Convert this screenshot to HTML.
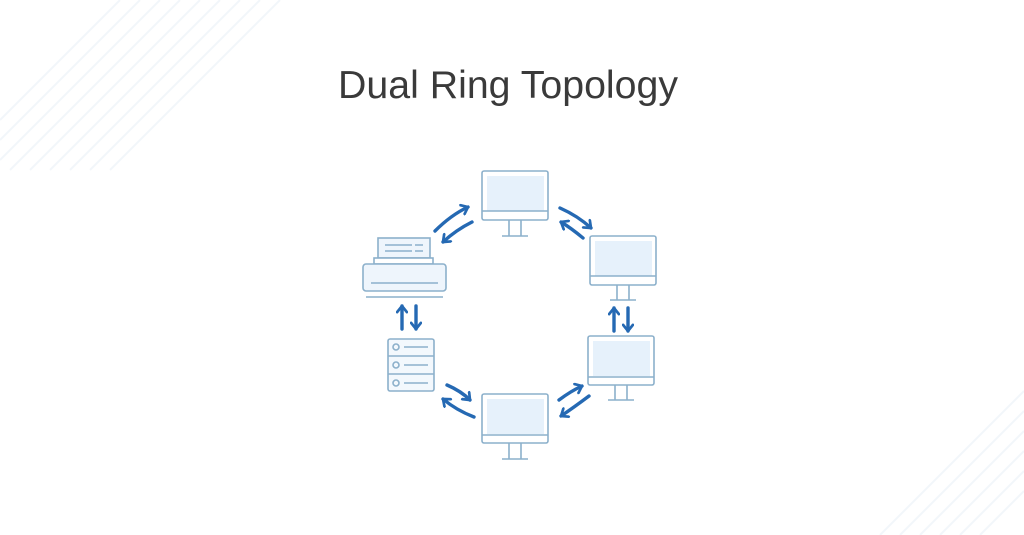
<!DOCTYPE html>
<html><head><meta charset="utf-8"><style>
html,body{margin:0;padding:0;background:#fff;}
svg{display:block}
</style></head><body>
<svg width="1024" height="535" viewBox="0 0 1024 535" xmlns="http://www.w3.org/2000/svg">
<defs>
<marker id="h" viewBox="0 0 10 10" refX="6" refY="5" markerWidth="3.6" markerHeight="3.6" orient="auto" markerUnits="strokeWidth">
<polyline points="1,1 6,5 1,9" fill="none" stroke="#2569b3" stroke-width="2.2" stroke-linecap="round" stroke-linejoin="round"/>
</marker>
</defs>
<rect width="1024" height="535" fill="#fff"/>
<g stroke="#f2f6fa" stroke-width="2">
<line x1="0" y1="120" x2="120" y2="0"/><line x1="0" y1="140" x2="140" y2="0"/><line x1="0" y1="160" x2="160" y2="0"/>
<line x1="10" y1="170" x2="180" y2="0"/><line x1="30" y1="170" x2="200" y2="0"/><line x1="50" y1="170" x2="220" y2="0"/>
<line x1="70" y1="170" x2="240" y2="0"/><line x1="90" y1="170" x2="260" y2="0"/><line x1="110" y1="170" x2="280" y2="0"/>
<line x1="880" y1="535" x2="1024" y2="391"/><line x1="900" y1="535" x2="1024" y2="411"/><line x1="920" y1="535" x2="1024" y2="431"/>
<line x1="940" y1="535" x2="1024" y2="451"/><line x1="960" y1="535" x2="1024" y2="471"/><line x1="980" y1="535" x2="1024" y2="491"/>
</g>
<text x="338" y="98" font-family="Liberation Sans, sans-serif" font-size="39" fill="#3a3a3a" textLength="340" lengthAdjust="spacingAndGlyphs">Dual Ring Topology</text>

<g fill="none" stroke="#8cb0cb" stroke-width="1.6">
<rect x="482" y="171" width="66" height="49" rx="2" fill="#fff"/>
<rect x="487" y="176" width="57" height="35" fill="#e6f1fb" stroke="none"/>
<line x1="482" y1="211" x2="548" y2="211"/>
<path d="M509 220 V236 M521 220 V236 M502 236 H528"/>
<rect x="590" y="236" width="66" height="49" rx="2" fill="#fff"/>
<rect x="595" y="241" width="57" height="35" fill="#e6f1fb" stroke="none"/>
<line x1="590" y1="276" x2="656" y2="276"/>
<path d="M617 285 V300 M629 285 V300 M610 300 H636"/>
<rect x="588" y="336" width="66" height="49" rx="2" fill="#fff"/>
<rect x="593" y="341" width="57" height="35" fill="#e6f1fb" stroke="none"/>
<line x1="588" y1="377" x2="654" y2="377"/>
<path d="M615 385 V400 M627 385 V400 M608 400 H634"/>
<rect x="482" y="394" width="66" height="49" rx="2" fill="#fff"/>
<rect x="487" y="399" width="57" height="35" fill="#e6f1fb" stroke="none"/>
<line x1="482" y1="435" x2="548" y2="435"/>
<path d="M509 443 V459 M521 443 V459 M502 459 H528"/>
<rect x="378" y="238" width="52" height="20" fill="#eef5fc"/>
<path d="M385 245 H412 M415 245 H423 M385 251 H412 M415 251 H423"/>
<rect x="374" y="258" width="59" height="6" fill="#fff"/>
<rect x="363" y="264" width="83" height="27" rx="3" fill="#eef5fc"/>
<line x1="371" y1="283" x2="438" y2="283"/>
<line x1="366" y1="297" x2="443" y2="297"/>
<rect x="388" y="339" width="46" height="52" rx="2" fill="#f3f8fd"/>
<line x1="388" y1="356" x2="434" y2="356"/><line x1="388" y1="374" x2="434" y2="374"/>
<circle cx="396" cy="347" r="3"/><circle cx="396" cy="365" r="3"/><circle cx="396" cy="383" r="3"/>
<path d="M404 347 H428 M404 365 H428 M404 383 H428"/>
</g>

<g fill="none" stroke="#2569b3" stroke-width="3.4" stroke-linecap="round" marker-end="url(#h)">
<path d="M435 231 Q451 215 468 207"/>
<path d="M472 222 Q456 230 443 242"/>
<path d="M560 208 Q578 216 591 228"/>
<path d="M583 238 Q571 228 561 222"/>
<path d="M402 329 V306"/>
<path d="M416 306 V329"/>
<path d="M614 331 V308"/>
<path d="M628 308 V331"/>
<path d="M447 385 Q461 391 470 400"/>
<path d="M474 417 Q456 410 443 399"/>
<path d="M559 400 Q571 391 582 386"/>
<path d="M589 396 Q573 408 561 416"/>
</g>
</svg>
</body></html>
